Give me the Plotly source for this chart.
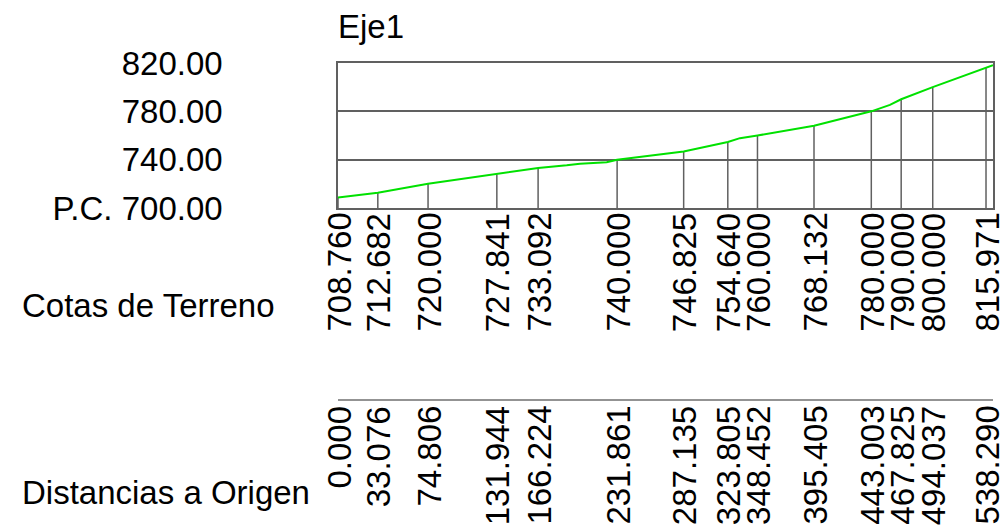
import plotly.graph_objects as go

# ---- data ----
stations = [0.000, 33.076, 74.806, 131.944, 166.224, 231.861, 287.135,
            323.805, 348.452, 395.405, 443.003, 467.825, 494.037, 538.290]
elevations = [708.760, 712.682, 720.000, 727.841, 733.092, 740.000, 746.825,
              754.640, 760.000, 768.132, 780.000, 790.000, 800.000, 815.971]

# terrain profile (stations plus a few intermediate read points)
profile_x = [0.000, 33.076, 74.806, 131.944, 166.224, 190.0, 201.0, 223.2, 231.861,
             287.135, 323.805, 333.9, 348.452, 395.405, 419.8, 443.003, 458.5,
             467.825, 494.037, 538.290, 544.1]
profile_y = [708.760, 712.682, 720.000, 727.841, 733.092, 735.3, 736.6, 737.8, 740.000,
             746.825, 754.640, 757.8, 760.000, 768.132, 773.9, 780.000, 785.3,
             790.000, 800.000, 815.971, 818.1]

y_tickvals = [700, 740, 780, 820]
y_ticktext = ["P.C. 700.00", "740.00", "780.00", "820.00"]

title_text = "Eje1"
row_labels = ["Cotas de Terreno", "Distancias a Origen"]

FONT = "Liberation Sans, Arial, sans-serif"
FS = 33
GREY = "rgb(96,96,96)"

fig = go.Figure()

# station vertical lines
vx, vy = [], []
for s, e in zip(stations, elevations):
    vx += [s, s, None]
    vy += [700, e, None]
fig.add_trace(go.Scatter(x=vx, y=vy, mode="lines",
                         line=dict(color=GREY, width=1.5), hoverinfo="skip",
                         showlegend=False))

# terrain line
fig.add_trace(go.Scatter(x=profile_x, y=profile_y, mode="lines",
                         line=dict(color="rgb(0,225,0)", width=2),
                         showlegend=False))

annotations = []
# elevation labels (rotated)
for s, e in zip(stations, elevations):
    annotations.append(dict(x=s, y=0, xref="x", yref="paper", text=f"{e:.3f}",
                            textangle=-90, xanchor="center", yanchor="top",
                            yshift=-3, xshift=1, showarrow=False,
                            font=dict(family=FONT, size=FS, color="black")))
# distance labels (rotated)
for s in stations:
    annotations.append(dict(x=s, y=0, xref="x", yref="paper", text=f"{s:.3f}",
                            textangle=-90, xanchor="center", yanchor="top",
                            yshift=-196, xshift=1, showarrow=False,
                            font=dict(family=FONT, size=FS, color="black")))
# title
annotations.append(dict(x=0, y=1.25, xref="paper", yref="paper", text=title_text,
                        xanchor="left", yanchor="middle", xshift=-2, showarrow=False,
                        font=dict(family=FONT, size=FS, color="black")))
# row labels
annotations.append(dict(x=-0.4855, y=-0.669, xref="paper", yref="paper",
                        text=row_labels[0], xanchor="left", yanchor="middle",
                        showarrow=False, font=dict(family=FONT, size=FS, color="black")))
annotations.append(dict(x=-0.4855, y=-1.9655, xref="paper", yref="paper",
                        text=row_labels[1], xanchor="left", yanchor="middle",
                        showarrow=False, font=dict(family=FONT, size=FS, color="black")))

shapes = [dict(type="line", xref="paper", yref="paper", x0=0, x1=1,
               y0=-1.3241, y1=-1.3241, line=dict(color="rgb(40,40,40)", width=1.2))]

fig.update_layout(
    width=1002, height=529,
    margin=dict(l=338, r=9, t=63, b=321, pad=0, autoexpand=False),
    paper_bgcolor="white", plot_bgcolor="white",
    showlegend=False,
    annotations=annotations,
    shapes=shapes,
    xaxis=dict(range=[0, 544.1], showgrid=False, zeroline=False, automargin=False,
               showline=True, mirror=True, linecolor=GREY, linewidth=1.5,
               showticklabels=False, ticks=""),
    yaxis=dict(range=[700, 820], tickvals=y_tickvals, ticktext=y_ticktext,
               showgrid=True, gridcolor=GREY, gridwidth=1.5, zeroline=False,
               automargin=False,
               showline=True, mirror=True, linecolor=GREY, linewidth=1.5,
               ticks="", ticklabelstandoff=107,
               tickfont=dict(family=FONT, size=FS, color="black")),
)

fig.write_html("out.html", config={"displayModeBar": False},
               post_script="document.body.style.margin='0px';document.body.style.overflow='hidden';")
